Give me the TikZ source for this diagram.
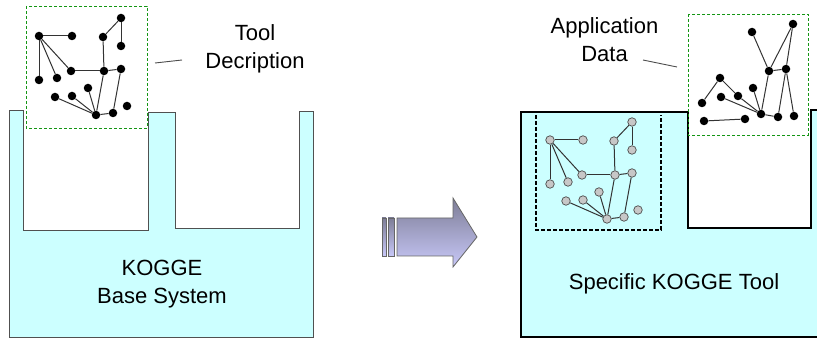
\documentclass[tikz,border=0pt]{standalone}
\usepackage{fontspec}
\setmainfont{Liberation Sans}
\usetikzlibrary{positioning}

\definecolor{basecyan}{RGB}{204,255,255}
\definecolor{descgreen}{RGB}{20,150,20}
\definecolor{arrowtop}{RGB}{125,125,150}
\definecolor{arrowbot}{RGB}{200,200,248}
\definecolor{wallgray}{RGB}{80,80,80}

\tikzset{
  blackdot/.style={circle, fill=black, inner sep=0pt, minimum size=8.5pt},
  graydot/.style={circle, draw=black!70, fill=black!22, inner sep=0pt, minimum size=8.5pt, line width=0.7pt},
  link/.style={black!80, line width=1pt},
  descbox/.style={draw=descgreen, dash pattern=on 3pt off 2pt, line width=0.9pt},
  txt/.style={align=center, font=\fontsize{22}{28}\selectfont},
  leader/.style={black!70, line width=0.9pt},
  arrowbody/.style={draw=black!60, line width=0.8pt, top color=arrowtop, bottom color=arrowbot},
}

% the tool description net, #1 = style of the dots
\newcommand{\toolnet}[1]{%
  \foreach \n/\x/\y in {1/39/36, 2/72/36, 3/121/18, 4/103/37, 5/121/46, 6/71/71, 7/104/71, 8/121/69,
                        9/39/80, 10/57/78, 11/88/88, 12/55/97, 13/72/96, 14/96/115, 15/113/113, 16/127/106}
    {\node[#1] (n\n) at (\x,\y) {};}
  \foreach \a/\b in {1/2, 1/9, 1/10, 1/6, 6/7, 7/8, 4/7, 4/3, 3/5, 7/14, 8/15, 14/15, 12/14, 13/14, 11/14}
    {\draw[link] (n\a) -- (n\b);}
}

\begin{document}
\begin{tikzpicture}[x=1pt, y=-1pt]
    \clip (0,0) rectangle (817,339);

    % base system
    \draw[fill=basecyan, draw=wallgray, line width=1pt]
      (9,111) -- (23,111) -- (23,231) -- (148,231) -- (148,113) -- (175,113) -- (175,229)
      -- (299,229) -- (299,112) -- (313,112) -- (313,337) -- (9,337) -- cycle;
    \node[txt] (base) at (162,284) {KOGGE\\Base System};

    \draw[descbox] (26,6) rectangle (147,128);
    \begin{scope}[name prefix=tool-]
      \toolnet{blackdot}
    \end{scope}
    \node[txt] (tooltxt) at (255,49) {Tool\\Decription};
    \coordinate (toolA) at (155,63);
    \coordinate (toolB) at (182,60);
    \draw[leader] (toolA) -- (toolB);

    % arrow
    \draw[arrowbody] (382,218) rectangle (386,256);
    \draw[arrowbody] (388,218) rectangle (394,256);
    \draw[arrowbody] (397,218) -- (453,218) -- (453,198) -- (477,237) -- (453,267)
      -- (453,256) -- (397,256) -- cycle;

    % specific tool
    \draw[fill=basecyan, draw=black, line width=2.5pt]
      (521,112) -- (688,112) -- (688,228) -- (811,228) -- (811,110) -- (830,110)
      -- (830,337) -- (521,337) -- cycle;
    \node[txt] (spec) at (674,284) {Specific KOGGE Tool};

    \draw[black, line width=1.2pt, dash pattern=on 4pt off 2pt]
      (536,115) -- (536,230) -- (661,230) -- (661,115);
    \begin{scope}[shift={(511,104)}, name prefix=copy-]
      \toolnet{graydot}
    \end{scope}

    % application data
    \draw[descbox] (688,14) rectangle (808,135);
    \foreach \n/\x/\y in {a/752/32, b/793/24, c/769/71, d/786/69, e/720/78, f/702/103, g/721/97,
                          h/738/96, i/753/88, j/761/114, k/778/117, l/794/116, m/704/121, n/745/119}
      {\node[blackdot] (app\n) at (\x,\y) {};}
    \foreach \a/\b in {a/c, b/c, b/d, c/d, c/j, d/k, d/l, j/k, i/j, e/f, e/h, h/j, g/j, m/n}
      {\draw[link] (app\a) -- (app\b);}
    \node[txt] (apptxt) at (604.5,40) {Application\\Data};
    \coordinate (appA) at (643,60);
    \coordinate (appB) at (677,67);
    \draw[leader] (appA) -- (appB);
\end{tikzpicture}
\end{document}
